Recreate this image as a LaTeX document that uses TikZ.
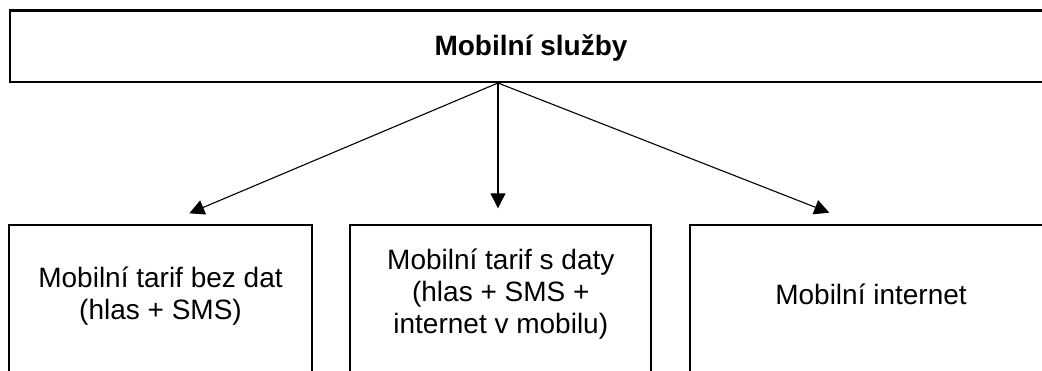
\documentclass[tikz,border=0pt]{standalone}
\usepackage{fontspec}
\setmainfont{Liberation Sans}
\usetikzlibrary{arrows.meta}
\begin{document}
\begin{tikzpicture}[x=1pt,y=-1pt,
  box/.style={draw=black, line width=2.2pt, inner sep=0pt},
  txt/.style={font=\fontsize{28}{32.2}\selectfont, align=center, inner sep=0pt},
  arr/.style={draw=black, line width=1.1pt, -{Triangle[length=15pt,width=15pt]}}]
\clip (0,0) rectangle (1042,370);
\node[box, minimum width=1042pt, minimum height=71.2pt,
      font=\fontsize{28}{32.2}\selectfont\bfseries, text height=20pt, text depth=2pt]
      (top) at (531,46.1) {Mobilní služby};
\node[box, minimum width=303pt, minimum height=200pt, anchor=north] (b1) at (160.5,224) {};
\node[box, minimum width=301pt, minimum height=200pt, anchor=north] (b2) at (500.8,224) {};
\node[box, minimum width=361.4pt, minimum height=200pt, anchor=north] (b3) at (871,224) {};
\node[txt, anchor=base] (t1) at (160.5,319.9) {Mobilní tarif bez dat\\(hlas + SMS)};
\node[txt, anchor=base] (t2) at (500.8,333.7) {Mobilní tarif s daty\\(hlas + SMS +\\internet v mobilu)};
\node[txt, anchor=base] (t3) at (871,304.3) {Mobilní internet};
\coordinate (src) at (498,83);
\coordinate (e1) at (189.3,213.3);
\coordinate (e2) at (498,208.3);
\coordinate (e3) at (829.3,212.7);
\draw[arr] (src) -- (e1);
\draw[arr] (src) -- (e2);
\draw[arr] (src) -- (e3);
\end{tikzpicture}
\end{document}
